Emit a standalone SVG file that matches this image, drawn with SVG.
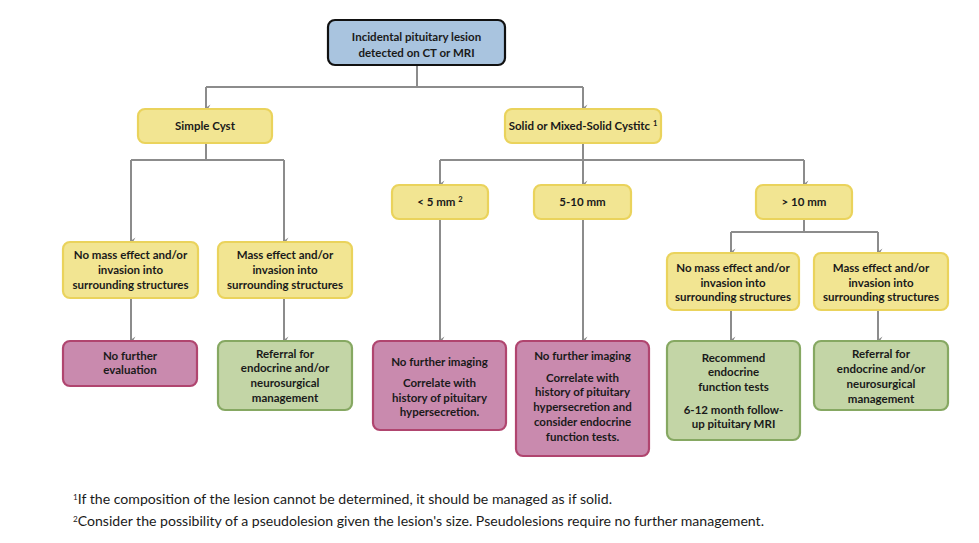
<svg xmlns="http://www.w3.org/2000/svg" width="979" height="543" viewBox="0 0 979 543">
<defs>
<marker id="ah" markerWidth="8" markerHeight="8" refX="4" refY="6" orient="auto-start-reverse" markerUnits="userSpaceOnUse" viewBox="0 0 8 8">
<path d="M0.5,1.5 L4,6.5 L7.5,1.5 L4,3.5 Z" fill="#8c8c8c"/>
</marker>
<style>
.c{fill:none;stroke:#8c8c8c;stroke-width:2}
.a{fill:none;stroke:#8c8c8c;stroke-width:2;marker-end:url(#ah)}
.blue{fill:#a9c4df;stroke:#111;stroke-width:2.2}
.yel{fill:#f2e592;stroke:#ead35c;stroke-width:2.2}
.pink{fill:#c98aae;stroke:#b0456f;stroke-width:2.2}
.grn{fill:#c3d5a6;stroke:#86a862;stroke-width:2.2}
text{font-family:Lato,"Liberation Sans",sans-serif;font-weight:bold;font-size:11.5px;fill:#1a1a1a;text-anchor:middle}
.fn{font-family:Lato,"Liberation Sans",sans-serif;font-weight:normal;font-size:13px;text-anchor:start}
.sup{font-size:7.5px}
</style>
</defs>
<rect width="979" height="543" fill="#fff"/>
<g id="connectors">
<path class="c" d="M417,65 V87 M206,87 H583"/>
<path class="a" d="M206,87 V108"/>
<path class="a" d="M583,87 V108"/>
<path class="c" d="M206,143 V160 M131,160 H284"/>
<path class="a" d="M131,160 V241"/>
<path class="a" d="M284,160 V241"/>
<path class="c" d="M583,143 V160 M440,160 H804"/>
<path class="a" d="M440,160 V184"/>
<path class="a" d="M583,160 V184"/>
<path class="a" d="M804,160 V184"/>
<path class="c" d="M804,219 V232 M731,232 H878"/>
<path class="a" d="M731,232 V252"/>
<path class="a" d="M878,232 V252"/>
<path class="a" d="M131,298 V340"/>
<path class="a" d="M284,298 V340"/>
<path class="a" d="M440,219 V340"/>
<path class="a" d="M583,219 V340"/>
<path class="a" d="M731,310 V340"/>
<path class="a" d="M878,310 V340"/>
</g>
<g id="n-root">
<rect class="blue" x="328" y="20" width="177" height="45" rx="7"/>
<text x="416.5" y="41">Incidental pituitary lesion</text>
<text x="416.5" y="57">detected on CT or MRI</text>
</g>
<g id="n-simple">
<rect class="yel" x="138" y="109" width="134" height="34" rx="7"/>
<text x="205" y="130">Simple Cyst</text>
</g>
<g id="n-solid">
<rect class="yel" x="505" y="109" width="156" height="34" rx="7"/>
<text x="583" y="130">Solid or Mixed-Solid Cystitc <tspan class="sup" dy="-4">1</tspan></text>
</g>
<g id="n-nomass-l">
<rect class="yel" x="63" y="242" width="135" height="56" rx="7"/>
<text x="130.5" y="259">No mass effect and/or</text>
<text x="130.5" y="274">invasion into</text>
<text x="130.5" y="289">surrounding structures</text>
</g>
<g id="n-mass-l">
<rect class="yel" x="218" y="242" width="134" height="56" rx="7"/>
<text x="285" y="259">Mass effect and/or</text>
<text x="285" y="274">invasion into</text>
<text x="285" y="289">surrounding structures</text>
</g>
<g id="n-noeval">
<rect class="pink" x="63" y="341" width="134" height="45" rx="7"/>
<text x="130" y="360">No further</text>
<text x="130" y="374">evaluation</text>
</g>
<g id="n-referral-l">
<rect class="grn" x="218" y="341" width="134" height="69" rx="7"/>
<text x="285" y="357.5">Referral for</text>
<text x="285" y="372">endocrine and/or</text>
<text x="285" y="387">neurosurgical</text>
<text x="285" y="402">management</text>
</g>
<g id="n-lt5">
<rect class="yel" x="392" y="185" width="96" height="34" rx="7"/>
<text x="440" y="206">&lt; 5 mm <tspan class="sup" dy="-4">2</tspan></text>
</g>
<g id="n-5to10">
<rect class="yel" x="534" y="185" width="97" height="34" rx="7"/>
<text x="582.5" y="206">5-10 mm</text>
</g>
<g id="n-gt10">
<rect class="yel" x="756" y="185" width="96" height="34" rx="7"/>
<text x="804" y="206">&gt; 10 mm</text>
</g>
<g id="n-lt5-out">
<rect class="pink" x="373" y="341" width="133" height="89" rx="7"/>
<text x="439.5" y="366">No further imaging</text>
<text x="439.5" y="386.5">Correlate with</text>
<text x="439.5" y="401.5">history of pituitary</text>
<text x="439.5" y="416">hypersecretion.</text>
</g>
<g id="n-5to10-out">
<rect class="pink" x="516" y="341" width="133" height="115" rx="7"/>
<text x="582.5" y="360">No further imaging</text>
<text x="582.5" y="381.5">Correlate with</text>
<text x="582.5" y="396">history of pituitary</text>
<text x="582.5" y="411">hypersecretion and</text>
<text x="582.5" y="426">consider endocrine</text>
<text x="582.5" y="441">function tests.</text>
</g>
<g id="n-nomass-r">
<rect class="yel" x="667" y="253" width="132" height="57" rx="7"/>
<text x="733" y="272">No mass effect and/or</text>
<text x="733" y="286.5">invasion into</text>
<text x="733" y="301">surrounding structures</text>
</g>
<g id="n-mass-r">
<rect class="yel" x="814" y="253" width="134" height="57" rx="7"/>
<text x="881" y="272">Mass effect and/or</text>
<text x="881" y="286.5">invasion into</text>
<text x="881" y="301">surrounding structures</text>
</g>
<g id="n-recommend">
<rect class="grn" x="667" y="341" width="133" height="99" rx="7"/>
<text x="733.5" y="361.5">Recommend</text>
<text x="733.5" y="376">endocrine</text>
<text x="733.5" y="391">function tests</text>
<text x="733.5" y="413.5">6-12 month follow-</text>
<text x="733.5" y="428">up pituitary MRI</text>
</g>
<g id="n-referral-r">
<rect class="grn" x="814" y="341" width="134" height="69" rx="7"/>
<text x="881" y="357.5">Referral for</text>
<text x="881" y="373">endocrine and/or</text>
<text x="881" y="387.5">neurosurgical</text>
<text x="881" y="402.5">management</text>
</g>
<g id="footnotes">
<text class="fn" x="73" y="504" textLength="539" lengthAdjust="spacingAndGlyphs"><tspan class="sup" dy="-4">1</tspan><tspan dy="4">If the composition of the lesion cannot be determined, it should be managed as if solid.</tspan></text>
<text class="fn" x="73" y="526" textLength="691" lengthAdjust="spacingAndGlyphs"><tspan class="sup" dy="-4">2</tspan><tspan dy="4">Consider the possibility of a pseudolesion given the lesion's size. Pseudolesions require no further management.</tspan></text>
</g>
</svg>
